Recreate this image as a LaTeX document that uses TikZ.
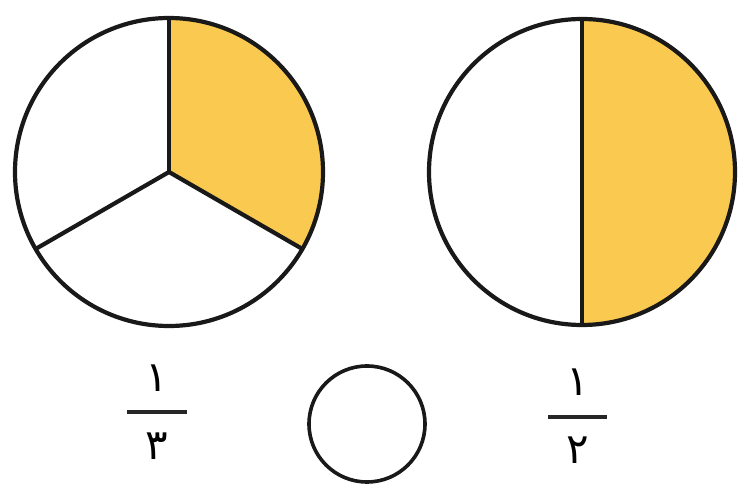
\documentclass[tikz,border=0pt]{standalone}
\usepackage{fontspec}
\newfontfamily\arabicfont[Script=Arabic]{DejaVu Sans}
\TeXXeTstate=1
\definecolor{piefill}{RGB}{250,201,80}
\tikzset{
  outline/.style={draw=black!90, line width=4.2pt},
  part/.style={draw=black!90, line width=4.2pt, line join=round},
  digit/.style={inner sep=0pt, font=\arabicfont\fontsize{42}{42}\selectfont},
  fracbar/.style={draw=black!85, line width=3.8pt}
}
\begin{document}
\begin{tikzpicture}[x=1pt,y=-1pt]
\useasboundingbox (0,0) rectangle (740,486);
\fill[white] (0,0) rectangle (740,486);
% left circle: thirds
\coordinate (lc) at (169,172);
\fill[piefill] (lc) -- ++(90:-154) arc[start angle=-90, end angle=30, radius=154] -- cycle;
\draw[part] (lc) -- ++(0,-154);
\draw[part] (lc) -- ++(133.4,77);
\draw[part] (lc) -- ++(-133.4,77);
\draw[outline] (lc) circle[radius=154];
% right circle: halves
\coordinate (rc) at (582,172);
\fill[piefill] (582,19) arc[start angle=-90, end angle=90, radius=153] -- cycle;
\draw[part] (582,19) -- (582,325);
\draw[outline] (rc) circle[radius=153];
% small circle
\coordinate (sc) at (367,424);
\draw[outline, line width=3.6pt] (sc) circle[radius=58];
% fractions
\node[digit] (n1) at (157,378) {\beginR ١\endR};
\draw[fracbar] (127,412) -- (187,412);
\node[digit] (d1) at (157,446) {\beginR ٣\endR};
\node[digit] (n2) at (578,382) {\beginR ١\endR};
\draw[fracbar] (548,417) -- (607,417);
\node[digit] (d2) at (578,450) {\beginR ٢\endR};
\end{tikzpicture}
\end{document}
